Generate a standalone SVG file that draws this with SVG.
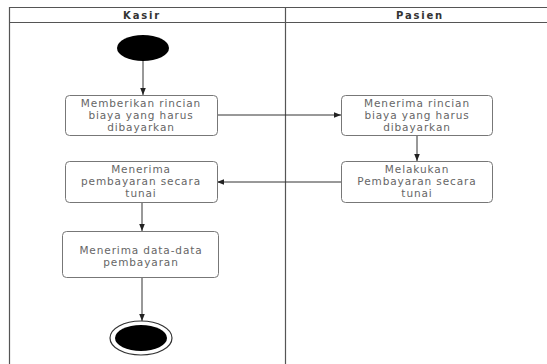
<svg xmlns="http://www.w3.org/2000/svg" width="547" height="364" viewBox="0 0 547 364">
  <style>
    .lane { fill: none; stroke: #555; stroke-width: 1.2; }
    .head { font-family: "DejaVu Sans", "Liberation Sans", sans-serif; font-size: 10px; font-weight: bold; letter-spacing: 1.8px; fill: #333; text-anchor: middle; }
    .act rect { fill: #fff; stroke: #777; stroke-width: 1; }
    .act text { font-family: "DejaVu Sans", "Liberation Sans", sans-serif; font-size: 10.5px; letter-spacing: 0.9px; fill: #666; text-anchor: middle; }
    .edge { fill: none; stroke: #333; stroke-width: 1; marker-end: url(#arrow); }
  </style>
  <defs>
    <marker id="arrow" viewBox="0 0 10 10" refX="10" refY="5" markerWidth="7" markerHeight="7" orient="auto" markerUnits="userSpaceOnUse">
      <path d="M0,1 L10,5 L0,9 Z" fill="#222"/>
    </marker>
  </defs>
  <rect width="547" height="364" fill="#fff"/>

  <!-- swimlanes -->
  <g id="lanes">
    <path class="lane" d="M9.5,364 V7.5 H547 M9.5,22.5 H547 M285.5,7.5 V364"/>
    <text class="head" x="142" y="19">Kasir</text>
    <text class="head" x="420" y="19">Pasien</text>
  </g>

  <!-- connectors -->
  <g id="connectors">
    <path class="edge" d="M143,61 V95"/>
    <path class="edge" d="M217,115 H341"/>
    <path class="edge" d="M417,135 V161"/>
    <path class="edge" d="M341,182 H217"/>
    <path class="edge" d="M142,202 V231"/>
    <path class="edge" d="M142,278 V321"/>
  </g>

  <g id="start">
    <ellipse cx="143" cy="48" rx="26" ry="13" fill="#000"/>
  </g>

  <g id="beri-rincian" class="act">
    <rect x="65.5" y="95.5" width="152" height="40" rx="4"/>
    <text x="141" y="107">Memberikan rincian</text>
    <text x="141" y="118.5">biaya yang harus</text>
    <text x="141" y="130.5">dibayarkan</text>
  </g>

  <g id="terima-rincian" class="act">
    <rect x="341.5" y="95.5" width="151" height="40" rx="4"/>
    <text x="417" y="107">Menerima rincian</text>
    <text x="417" y="118.5">biaya yang harus</text>
    <text x="417" y="130.5">dibayarkan</text>
  </g>

  <g id="lakukan-bayar" class="act">
    <rect x="341.5" y="161.5" width="151" height="41" rx="4"/>
    <text x="417" y="173">Melakukan</text>
    <text x="417" y="185">Pembayaran secara</text>
    <text x="417" y="197">tunai</text>
  </g>

  <g id="terima-bayar" class="act">
    <rect x="65.5" y="161.5" width="152" height="41" rx="4"/>
    <text x="141" y="173">Menerima</text>
    <text x="141" y="185">pembayaran secara</text>
    <text x="141" y="197">tunai</text>
  </g>

  <g id="terima-data" class="act">
    <rect x="62.5" y="231.5" width="156" height="46" rx="4"/>
    <text x="141" y="254">Menerima data-data</text>
    <text x="141" y="266">pembayaran</text>
  </g>

  <g id="end">
    <ellipse cx="141" cy="338" rx="31" ry="17" fill="#fff" stroke="#333" stroke-width="1.2"/>
    <ellipse cx="141" cy="338" rx="26" ry="13" fill="#000"/>
  </g>
</svg>
